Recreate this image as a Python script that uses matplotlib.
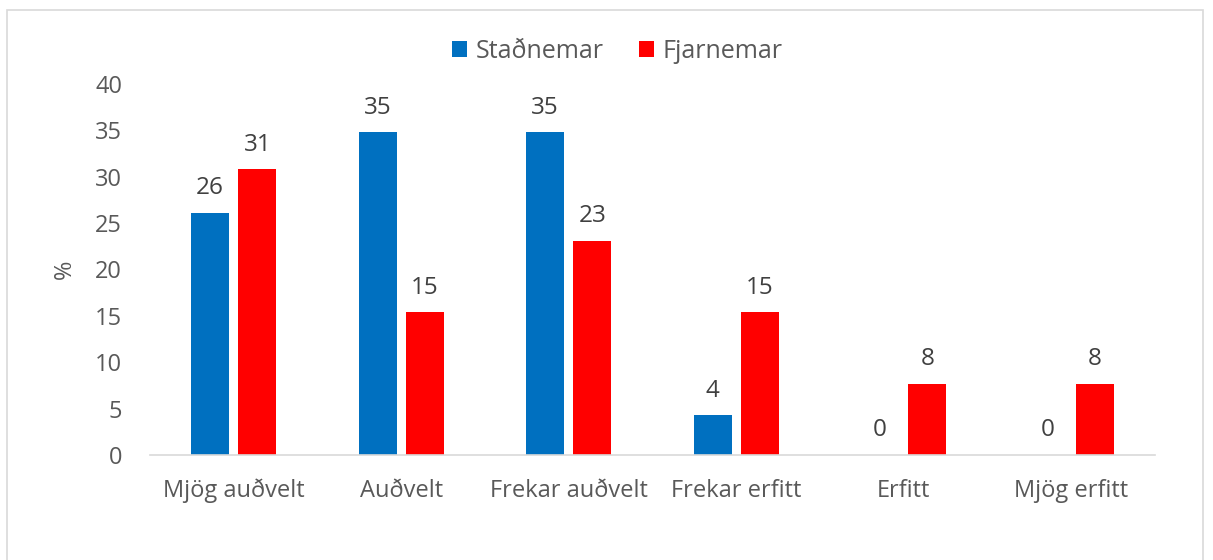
import matplotlib.pyplot as plt
import numpy as np
from matplotlib.patches import Rectangle

# gogn
flokkar = ["Mjög auðvelt", "Auðvelt", "Frekar auðvelt", "Frekar erfitt", "Erfitt", "Mjög erfitt"]
stadnemar = [26.1, 34.8, 34.8, 4.3, 0, 0]
fjarnemar = [30.8, 15.4, 23.1, 15.4, 7.7, 7.7]
y_ticks = [0, 5, 10, 15, 20, 25, 30, 35, 40]

BLUE = "#0070C0"
RED = "#FF0000"
TXT = "#595959"

plt.rcParams['font.family'] = ['Open Sans', 'DejaVu Sans']

fig = plt.figure(figsize=(12.13, 5.6), dpi=100)
ax = fig.add_axes([150/1213, 1-455/560, 1005/1213, (455-84)/560])

# rammi utan um
fig.patches.append(Rectangle((7/1213, -0.1), (1203-7)/1213, 1.1-10/560,
                             transform=fig.transFigure, fill=False,
                             edgecolor="#D9D9D9", linewidth=1.2))

x = np.arange(len(flokkar))
w = 0.227
off = 0.141
b1 = ax.bar(x - off, stadnemar, w, color=BLUE, label="Staðnemar")
b2 = ax.bar(x + off, fjarnemar, w, color=RED, label="Fjarnemar")

for bars, vals in [(b1, stadnemar), (b2, fjarnemar)]:
    for r, v in zip(bars, vals):
        ax.annotate(f"{v:.0f}", (r.get_x() + r.get_width()/2, v),
                    xytext=(0, 9), textcoords="offset points",
                    ha="center", va="bottom", fontsize=17.5, color="#404040")

ax.set_xlim(-0.5, len(flokkar) - 0.5)
ax.set_ylim(0, 40)
ax.set_yticks(y_ticks)
ax.set_xticks(x)
ax.set_xticklabels(flokkar)
ax.tick_params(axis="both", length=0, labelsize=17, labelcolor=TXT)
ax.tick_params(axis="y", pad=20)
ax.tick_params(axis="x", pad=17)
for s in ["top", "right", "left"]:
    ax.spines[s].set_visible(False)
ax.spines["bottom"].set_color("#D9D9D9")
ax.spines["bottom"].set_linewidth(1.2)

ax.set_ylabel("%", fontsize=17, color=TXT, labelpad=13)

fig.legend(loc="center", bbox_to_anchor=(617/1213, 1-51/560), ncol=2, frameon=False,
           fontsize=18, labelcolor=TXT, handlelength=0.6, handleheight=0.6,
           handletextpad=0.35, columnspacing=1.4)

fig.savefig("out.png", dpi=100)
